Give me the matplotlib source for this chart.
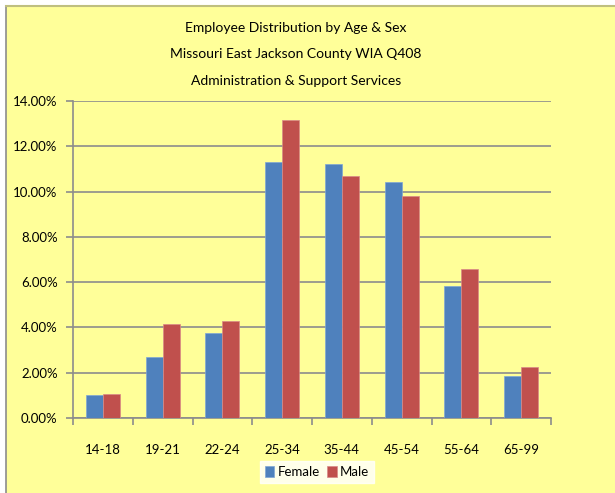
import matplotlib.pyplot as plt
import numpy as np
from matplotlib.patches import Rectangle
from matplotlib.ticker import PercentFormatter

plt.rcParams['font.family'] = ['Lato', 'DejaVu Sans']

# Data
age_groups = ["14-18", "19-21", "22-24", "25-34", "35-44", "45-54", "55-64", "65-99"]
female = [1.01, 2.69, 3.75, 11.32, 11.20, 10.44, 5.84, 1.85]
male = [1.07, 4.15, 4.28, 13.15, 10.67, 9.79, 6.60, 2.25]
title_lines = ["Employee Distribution by Age & Sex",
               "Missouri East Jackson County WIA Q408",
               "Administration & Support Services"]

W, H = 615, 493
fig = plt.figure(figsize=(W / 100, H / 100), dpi=100)
fig.patch.set_facecolor("white")

# yellow chart area with gray border on top/left
bx, by = 6 / W, 6 / H
fig.patches.append(Rectangle((bx, 0), 1 - bx, 1 - by, transform=fig.transFigure,
                             facecolor="#FFFF99", edgecolor="none", zorder=-2))
fig.lines.append(plt.Line2D([bx, bx], [0, 1 - by], transform=fig.transFigure,
                            color="#8C8C8C", lw=1.2))
fig.lines.append(plt.Line2D([bx, 1], [1 - by, 1 - by], transform=fig.transFigure,
                            color="#BFBF80", lw=1.5))

ax = fig.add_axes([73 / W, 1 - 418 / H, 478 / W, 317 / H])
ax.set_facecolor("none")

x = np.arange(len(age_groups))
w = 1 / 3.5
ax.bar(x - w / 2, female, w, color="#4F81BD", edgecolor="#7EA6D6", linewidth=0.5,
       label="Female", zorder=3)
ax.bar(x + w / 2, male, w, color="#C0504D", edgecolor="#D98A88", linewidth=0.5,
       label="Male", zorder=3)

ax.set_xlim(-0.5, len(age_groups) - 0.5)
ax.set_ylim(0, 14)
ax.set_yticks(np.arange(0, 15, 2))
ax.yaxis.set_major_formatter(PercentFormatter(decimals=2))
ax.grid(axis="y", color="#8C8C8C", linewidth=1.2, zorder=0)

ax.set_xticks(np.arange(len(age_groups) + 1) - 0.5)
ax.set_xticklabels([])
ax.set_xticks(x, minor=True)
ax.set_xticklabels(age_groups, minor=True)
ax.tick_params(axis="x", which="major", length=5, color="#8C8C8C", width=1.2)
ax.tick_params(axis="x", which="minor", length=0, pad=19, labelsize=9.5)
ax.tick_params(axis="y", length=5, color="#8C8C8C", width=1.2, pad=6, labelsize=9.5)

for side in ["top", "right"]:
    ax.spines[side].set_visible(False)
for side in ["left", "bottom"]:
    ax.spines[side].set_color("#8C8C8C")
    ax.spines[side].set_linewidth(1.2)

# title, one line at a time
for i, line in enumerate(title_lines):
    fig.text(296 / W, 1 - (28 + 26.5 * i) / H, line,
             ha="center", va="center", fontsize=10)

leg = fig.legend(loc="center", bbox_to_anchor=(317 / W, 1 - 472 / H), ncol=2,
                 frameon=True, fancybox=False, fontsize=9.5, handlelength=0.7,
                 handleheight=0.9, handletextpad=0.25, columnspacing=0.6,
                 borderpad=0.35)
leg.get_frame().set_facecolor("white")
leg.get_frame().set_edgecolor("white")

fig.savefig("out.png", dpi=100, facecolor=fig.get_facecolor())
